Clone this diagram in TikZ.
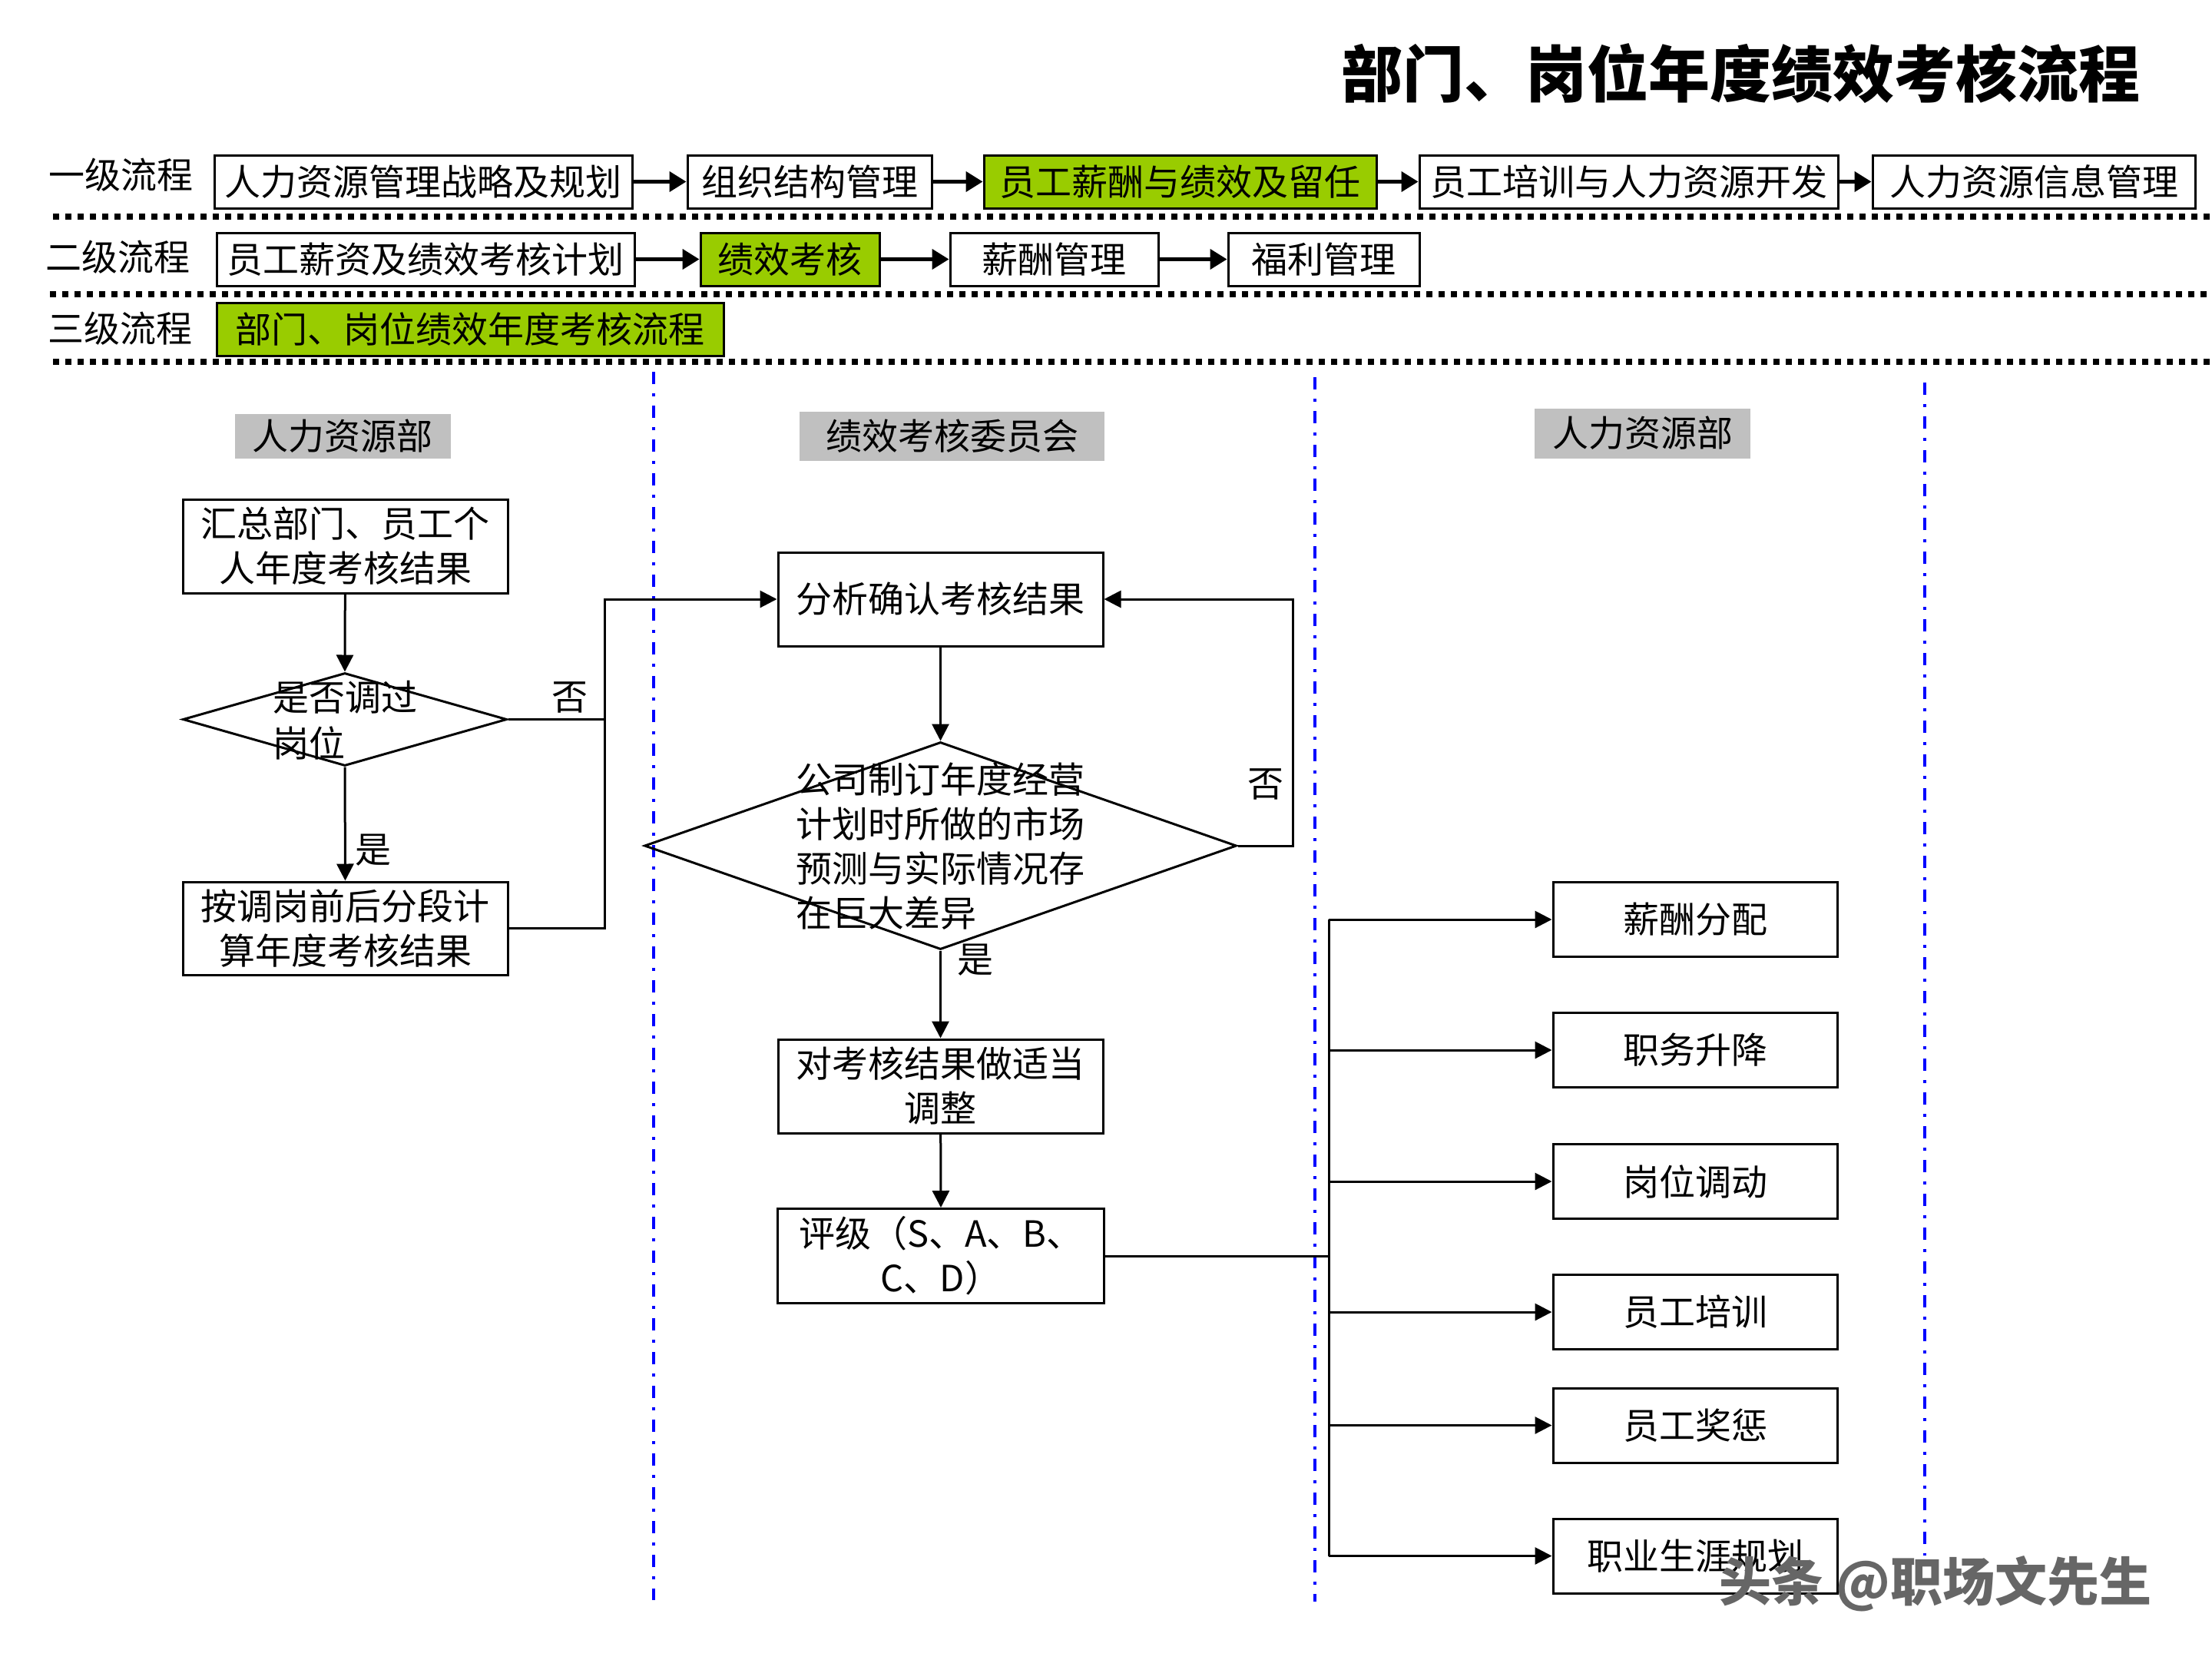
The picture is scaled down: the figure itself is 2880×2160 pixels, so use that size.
\documentclass[tikz,border=0pt]{standalone}
\usepackage{fontspec}
\setmainfont{Noto Sans CJK SC}
\usetikzlibrary{arrows.meta,shapes.geometric}
\definecolor{lgreen}{HTML}{99CC00}
\definecolor{hgray}{HTML}{C0C0C0}
\tikzset{
  every node/.style={font=\fontsize{47}{58}\selectfont, inner sep=0pt},
  topbox/.style={draw, line width=3pt, minimum height=69pt, fill=white},
  greenbox/.style={topbox, fill=lgreen},
  procbox/.style={draw, line width=3pt, minimum width=423pt, minimum height=122pt, align=center},
  decision/.style={draw, diamond, line width=3pt, inner sep=0pt},
  lanehead/.style={fill=hgray},
  resbox/.style={draw, line width=3pt, minimum width=370pt, minimum height=97pt},
  flow/.style={line width=3pt, -{Triangle[length=22pt,width=22pt]}},
  plainline/.style={line width=3pt},
  toparrow/.style={line width=4.5pt, -{Triangle[length=22pt,width=26pt]}},
  rowsep/.style={line width=8pt, dash pattern=on 8pt off 8pt},
  lanesep/.style={blue, line width=4pt, dash pattern=on 16pt off 12pt on 4pt off 12pt},
}
\begin{document}
\begin{tikzpicture}[x=1pt, y=-1pt]
\useasboundingbox (0,0) rectangle (2880,2160);

% title
\node[font=\fontsize{80}{96}\selectfont\bfseries] (title) at (2266,96) {部门、岗位年度绩效考核流程};

% row labels
\node (l1) at (157,228) {一级流程};
\node (l2) at (153,335) {二级流程};
\node (l3) at (156,428) {三级流程};

% row 1
\node[topbox, minimum width=544pt] (b1) at (551,236.5) {人力资源管理战略及规划};
\node[topbox, minimum width=318pt] (b2) at (1054,236.5) {组织结构管理};
\node[greenbox, minimum width=511pt] (b3) at (1536.5,236.5) {员工薪酬与绩效及留任};
\node[topbox, minimum width=545pt] (b4) at (2120.5,236.5) {员工培训与人力资源开发};
\node[topbox, minimum width=420pt] (b5) at (2648,236.5) {人力资源信息管理};
\draw[toparrow] (b1) -- (b2);
\draw[toparrow] (b2) -- (b3);
\draw[toparrow] (b3) -- (b4);
\draw[toparrow] (b4) -- (b5);

% row 2
\node[topbox, minimum width=544pt] (c1) at (554,337.5) {员工薪资及绩效考核计划};
\node[greenbox, minimum width=233pt] (c2) at (1028.5,337.5) {绩效考核};
\node[topbox, minimum width=271pt] (c3) at (1372.5,337.5) {薪酬管理};
\node[topbox, minimum width=249pt] (c4) at (1723.5,337.5) {福利管理};
\draw[toparrow] (c1) -- (c2);
\draw[toparrow] (c2) -- (c3);
\draw[toparrow] (c3) -- (c4);

% row 3
\node[greenbox, minimum width=660pt] (e1) at (612,428.5) {部门、岗位绩效年度考核流程};

% separators
\coordinate (s1a) at (69,282); \coordinate (s1b) at (2880,282);
\coordinate (s2a) at (65,383); \coordinate (s2b) at (2880,383);
\coordinate (s3a) at (69,471); \coordinate (s3b) at (2880,471);
\draw[rowsep] (s1a) -- (s1b);
\draw[rowsep] (s2a) -- (s2b);
\draw[rowsep] (s3a) -- (s3b);

\coordinate (v1a) at (851,484); \coordinate (v1b) at (851,2083);
\coordinate (v2a) at (1712,491); \coordinate (v2b) at (1712,2085);
\coordinate (v3a) at (2506,498); \coordinate (v3b) at (2506,2025);
\draw[lanesep] (v1a) -- (v1b);
\draw[lanesep] (v2a) -- (v2b);
\draw[lanesep] (v3a) -- (v3b);

% lane headers
\node[lanehead, minimum width=281pt, minimum height=58pt] (h1) at (446,568) {人力资源部};
\node[lanehead, minimum width=397pt, minimum height=64pt] (h2) at (1239.5,568) {绩效考核委员会};
\node[lanehead, minimum width=281pt, minimum height=65pt] (h3) at (2138.5,564) {人力资源部};

% left lane
\node[procbox] (t1) at (449.5,711) {汇总部门、员工个\\人年度考核结果};
\node[decision, minimum width=422pt, minimum height=121pt] (d1) at (449,936.5) {};
\node[align=left, font=\fontsize{47}{60}\selectfont] (d1t) at (449,938) {是否调过\\岗位};
\node[procbox, minimum height=121pt] (t2) at (449.5,1208.5) {按调岗前后分段计\\算年度考核结果};

% middle lane
\node[procbox] (m1) at (1224.5,780) {分析确认考核结果};
\node[decision, minimum width=771pt, minimum height=270pt] (m2) at (1224.5,1101) {};
\node[align=left] (m2t) at (1224.5,1102) {公司制订年度经营\\计划时所做的市场\\预测与实际情况存\\在巨大差异};
\node[procbox] (m3) at (1224.5,1414) {对考核结果做适当\\调整};
\node[procbox, minimum width=425pt, minimum height=123pt] (m4) at (1225,1635) {评级（S、A、B、\\C、D）};

% right lane
\node[resbox] (r1) at (2207,1197) {薪酬分配};
\node[resbox] (r2) at (2207,1367) {职务升降};
\node[resbox] (r3) at (2207,1538) {岗位调动};
\node[resbox] (r4) at (2207,1708) {员工培训};
\node[resbox] (r5) at (2207,1855.5) {员工奖惩};
\node[resbox] (r6) at (2207,2025.5) {职业生涯规划};

% connectors left lane
\coordinate (jLmid) at (787,936.5);
\coordinate (jLtop) at (787,780);
\draw[flow] (t1) -- (d1.north);
\draw[flow] (d1.south) -- (t2.north);
\draw[flow] (d1.east) -- (jLmid) -- (jLtop) -- (m1.west);
\draw[plainline] (t2.east) -| (jLmid);
\node (no1) at (742,908) {否};
\node (yes1) at (486,1107) {是};

% connectors middle lane
\coordinate (jR) at (1683,1101);
\draw[flow] (m1) -- (m2.north);
\draw[flow] (m2.east) -- (jR) |- (m1.east);
\draw[flow] (m2.south) -- (m3.north);
\draw[flow] (m3) -- (m4.north);
\node (no2) at (1648,1021) {否};
\node (yes2) at (1270,1250) {是};

% fan-out
\coordinate (trTop) at (1730,1197);
\coordinate (trBot) at (1730,2025.5);
\draw[plainline] (m4.east) -- (trTop |- m4.east);
\draw[plainline] (trTop) -- (trBot);
\draw[flow] (trTop |- r1.west) -- (r1.west);
\draw[flow] (trTop |- r2.west) -- (r2.west);
\draw[flow] (trTop |- r3.west) -- (r3.west);
\draw[flow] (trTop |- r4.west) -- (r4.west);
\draw[flow] (trTop |- r5.west) -- (r5.west);
\draw[flow] (trTop |- r6.west) -- (r6.west);

% watermark
\node[text=black!60, font=\fontsize{68}{80}\selectfont\bfseries] (wm) at (2520,2062) {头条 @职场文先生};
\end{tikzpicture}
\end{document}
